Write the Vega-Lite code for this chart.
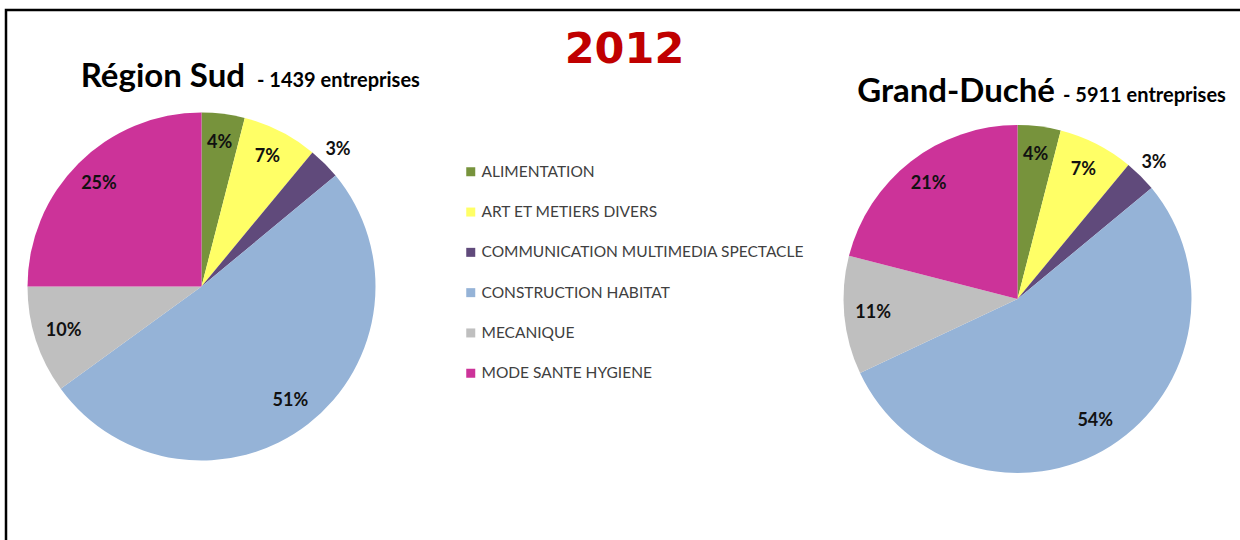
{
  "$schema": "https://vega.github.io/schema/vega-lite/v6.json",
  "width": 1240,
  "height": 540,
  "autosize": {"type": "fit", "contains": "padding"},
  "padding": {"left": 6, "top": 10, "right": -10, "bottom": -10},
  "background": "white",
  "config": {
    "view": {"stroke": "#000000", "strokeWidth": 2.5},
    "font": "Lato"
  },
  "datasets": {
    "shares": [
      {"region": "Région Sud", "category": "ALIMENTATION", "value": 4},
      {"region": "Région Sud", "category": "ART ET METIERS DIVERS", "value": 7},
      {"region": "Région Sud", "category": "COMMUNICATION MULTIMEDIA SPECTACLE", "value": 3},
      {"region": "Région Sud", "category": "CONSTRUCTION HABITAT", "value": 51},
      {"region": "Région Sud", "category": "MECANIQUE", "value": 10},
      {"region": "Région Sud", "category": "MODE SANTE HYGIENE", "value": 25},
      {"region": "Grand-Duché", "category": "ALIMENTATION", "value": 4},
      {"region": "Grand-Duché", "category": "ART ET METIERS DIVERS", "value": 7},
      {"region": "Grand-Duché", "category": "COMMUNICATION MULTIMEDIA SPECTACLE", "value": 3},
      {"region": "Grand-Duché", "category": "CONSTRUCTION HABITAT", "value": 54},
      {"region": "Grand-Duché", "category": "MECANIQUE", "value": 11},
      {"region": "Grand-Duché", "category": "MODE SANTE HYGIENE", "value": 21}
    ],
    "titles": [
      {"region": "Région Sud", "name": "Région Sud", "count": "- 1439 entreprises"},
      {"region": "Grand-Duché", "name": "Grand-Duché", "count": "- 5911 entreprises"}
    ],
    "year": [
      {"year": "2012"}
    ]
  },
  "layer": [
    {
      "data": {"name": "shares"},
      "transform": [
        {"stack": "value", "groupby": ["region"], "sort": [{"field": "category", "order": "ascending"}], "as": ["v0", "v1"]}
      ],
      "mark": {"type": "arc", "outerRadius": 174},
      "encoding": {
        "theta": {"field": "v0", "type": "quantitative", "scale": {"domain": [0, 100]}},
        "theta2": {"field": "v1"},
        "color": {
          "field": "category",
          "type": "nominal",
          "scale": {
            "domain": ["ALIMENTATION", "ART ET METIERS DIVERS", "COMMUNICATION MULTIMEDIA SPECTACLE", "CONSTRUCTION HABITAT", "MECANIQUE", "MODE SANTE HYGIENE"],
            "range": ["#77933C", "#FFFF66", "#604A7B", "#95B3D7", "#BFBFBF", "#CC3399"]
          },
          "legend": {
            "orient": "none",
            "legendX": 457,
            "legendY": 154,
            "title": null,
            "symbolType": "square",
            "symbolSize": 81,
            "symbolStrokeWidth": 0,
            "labelFont": "Lato",
            "labelFontSize": 15.5,
            "labelColor": "#404040",
            "rowPadding": 23.3,
            "labelOffset": 3,
            "padding": 0,
            "labelLimit": 0
          }
        },
        "x": {"field": "region", "type": "nominal", "axis": null, "scale": {"type": "point", "domain": ["Région Sud", "Grand-Duché"], "range": [195.5, 1011.5], "padding": 0}},
        "y": {"field": "region", "type": "nominal", "axis": null, "scale": {"type": "point", "domain": ["Région Sud", "Grand-Duché"], "range": [276.5, 289], "padding": 0}}
      }
    },
    {
      "data": {"name": "shares"},
      "transform": [
        {"stack": "value", "groupby": ["region"], "sort": [{"field": "category", "order": "ascending"}], "as": ["v0", "v1"]},
        {"calculate": "(datum.v0 + datum.v1) / 2", "as": "mid"},
        {"calculate": "datum.value + '%'", "as": "label"}
      ],
      "mark": {
        "type": "text",
        "font": "Lato",
        "fontWeight": "bold",
        "fontSize": 18,
        "fill": "#111111",
        "align": "center",
        "baseline": "middle",
        "radius": {"expr": "datum.category == 'COMMUNICATION MULTIMEDIA SPECTACLE' ? 193 : 145"}
      },
      "encoding": {
        "theta": {"field": "mid", "type": "quantitative", "stack": null, "scale": {"domain": [0, 100]}},
        "text": {"field": "label", "type": "nominal"},
        "x": {"field": "region", "type": "nominal", "axis": null, "scale": {"type": "point", "domain": ["Région Sud", "Grand-Duché"], "range": [195.5, 1011.5], "padding": 0}},
        "y": {"field": "region", "type": "nominal", "axis": null, "scale": {"type": "point", "domain": ["Région Sud", "Grand-Duché"], "range": [276.5, 289], "padding": 0}}
      }
    },
    {
      "data": {"name": "titles"},
      "mark": {"type": "text", "font": "Lato", "fontWeight": "bold", "fontSize": 33, "fill": "#000000", "align": "right", "baseline": "alphabetic"},
      "encoding": {
        "text": {"field": "name", "type": "nominal"},
        "x": {"field": "region", "type": "nominal", "axis": null, "scale": {"type": "point", "domain": ["Région Sud", "Grand-Duché"], "range": [239, 1049], "padding": 0}},
        "y": {"field": "region", "type": "nominal", "axis": null, "scale": {"type": "point", "domain": ["Région Sud", "Grand-Duché"], "range": [77, 92], "padding": 0}}
      }
    },
    {
      "data": {"name": "titles"},
      "mark": {"type": "text", "font": "Lato", "fontWeight": "bold", "fontSize": 20, "fill": "#000000", "align": "left", "baseline": "alphabetic"},
      "encoding": {
        "text": {"field": "count", "type": "nominal"},
        "x": {"field": "region", "type": "nominal", "axis": null, "scale": {"type": "point", "domain": ["Région Sud", "Grand-Duché"], "range": [251, 1057], "padding": 0}},
        "y": {"field": "region", "type": "nominal", "axis": null, "scale": {"type": "point", "domain": ["Région Sud", "Grand-Duché"], "range": [77, 92], "padding": 0}}
      }
    },
    {
      "data": {"name": "year"},
      "mark": {"type": "text", "font": "DejaVu Sans", "fontWeight": "bold", "fontSize": 43, "fill": "#C00000", "align": "center", "baseline": "alphabetic"},
      "encoding": {
        "text": {"field": "year", "type": "nominal"},
        "x": {"field": "year", "type": "nominal", "axis": null, "scale": {"type": "point", "domain": ["2012"], "range": [618.5, 618.5], "padding": 0}},
        "y": {"field": "year", "type": "nominal", "axis": null, "scale": {"type": "point", "domain": ["2012"], "range": [53, 53], "padding": 0}}
      }
    }
  ],
  "resolve": {"scale": {"x": "independent", "y": "independent"}}
}
